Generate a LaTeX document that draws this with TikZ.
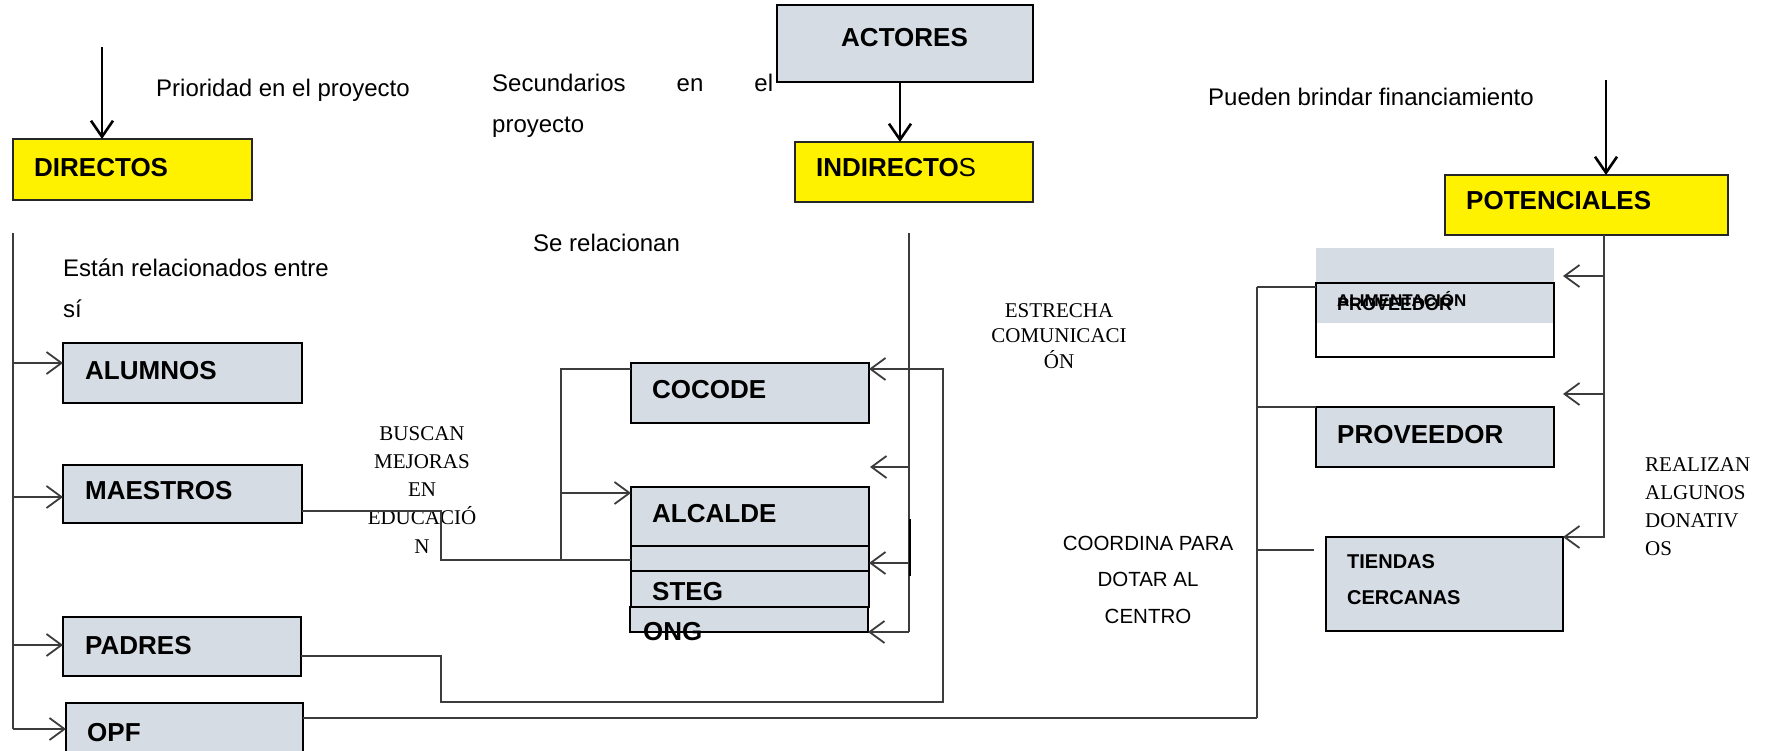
\documentclass[tikz,border=0pt]{standalone}
\usepackage{fontspec}
\setmainfont{Liberation Sans}
\newfontfamily\serifrm{Liberation Serif}
\usetikzlibrary{arrows.meta}
\definecolor{boxgray}{HTML}{D6DCE4}
\definecolor{lnkc}{HTML}{3C3C3C}
\begin{document}
\begin{tikzpicture}[x=1pt,y=-1pt,
  bx/.style n args={2}{minimum width=#1, minimum height=#2},
  boxg/.style={draw=black, line width=2.2pt, fill=boxgray, inner sep=0pt, outer sep=0pt, anchor=north west},
  boxy/.style={draw=black!85, line width=2pt, fill=yellow, inner sep=0pt, outer sep=0pt, anchor=north west},
  lbl/.style={inner sep=0pt, anchor=base west},
  tbig/.style={font=\fontsize{26}{30}\selectfont\bfseries},
  tnorm/.style={font=\fontsize{24}{41}\selectfont},
  tser/.style={inner sep=0pt, anchor=base, align=center},
  lnk/.style={draw=lnkc, line width=1.8pt},
  smarr/.style={lnk, -{Straight Barb[length=15pt,width=22pt]}},
  mainarr/.style={draw=black, line width=2.6pt, -{Straight Barb[length=16pt,width=22pt]}}
]
\useasboundingbox (0,0) rectangle (1773,751);

% ---------- boxes ----------
\node[boxg, bx={256}{77}] (act) at (777,5) {};
\node[boxy, bx={239}{61}] (dir) at (13,139) {};
\node[boxy, bx={238}{60}] (ind) at (795,142) {};
\node[boxy, bx={283}{60}] (pot) at (1445,175) {};
\node[boxg, bx={239}{60}] (alu) at (63,343) {};
\node[boxg, bx={239}{58}] (mae) at (63,465) {};
\node[boxg, bx={238}{59}] (pad) at (63,617) {};
\node[boxg, bx={237}{56}] (opf) at (66,703) {};
\node[boxg, bx={238}{60}] (coc) at (631,363) {};
\node[boxg, bx={238}{59}] (alc) at (631,487) {};
\node[boxg, bx={238}{25}] (blk) at (631,546) {};
\node[boxg, bx={238}{36}] (stg) at (631,571) {};
\node[boxg, bx={238}{25}] (ong) at (630,607) {};
\node[fill=boxgray, inner sep=0pt, outer sep=0pt, anchor=north west, bx={238}{75}] (alimbg) at (1316,248) {};
\node[draw=black, line width=2.2pt, inner sep=0pt, outer sep=0pt, anchor=north west, bx={238}{74}] (alim) at (1316,283) {};
\node[boxg, bx={238}{60}] (prov) at (1316,407) {};
\node[boxg, bx={237}{94}] (tie) at (1326,537) {};

% ---------- texts in boxes ----------
\node[lbl, tbig] (tact) at (841,47) {ACTORES};
\node[lbl, tbig] (tdir) at (34,177) {DIRECTOS};
\node[lbl, font=\fontsize{26}{30}\selectfont] (tind) at (816,177) {\textbf{INDIRECTO}S};
\node[lbl, tbig] (tpot) at (1466,210) {POTENCIALES};
\node[lbl, tbig] (talu) at (85,379) {ALUMNOS};
\node[lbl, tbig] (tmae) at (85,499) {MAESTROS};
\node[lbl, tbig] (tpad) at (85,654) {PADRES};
\node[lbl, tbig] (topf) at (87,741) {OPF};
\node[lbl, tbig] (tcoc) at (652,399) {COCODE};
\node[lbl, tbig] (talc) at (652,522) {ALCALDE};
\node[lbl, tbig] (tstg) at (652,600) {STEG};
\node[lbl, tbig] (tong) at (643,640) {ONG};
\node[lbl, font=\fontsize{17}{20}\selectfont\bfseries] (talim) at (1337,307) {ALIMENTACIÓN};
\node[lbl, font=\fontsize{18}{20}\selectfont\bfseries] (tprov1) at (1337,311) {PROVEEDOR};
\node[lbl, tbig] (tprov) at (1337,443) {PROVEEDOR};
\node[lbl, font=\fontsize{20}{36}\selectfont\bfseries, align=left] (ttie) at (1347,604) {TIENDAS\\CERCANAS};

% ---------- free texts ----------
\node[lbl, tnorm] (tprio) at (156,97) {Prioridad en el proyecto};
\node[lbl, tnorm] (tsec) at (492,92) {\makebox[281pt][s]{Secundarios en el}};
\node[lbl, tnorm] (tproy) at (492,133) {proyecto};
\node[lbl, tnorm] (tpue) at (1208,106) {Pueden brindar financiamiento};
\node[lbl, tnorm] (trel) at (533,252) {Se relacionan};
\node[lbl, tnorm, align=left] (test) at (63,318) {Están relacionados entre\\sí};
\node[tser, font=\serifrm\fontsize{21}{28.2}\selectfont] (tbus) at (422,553) {BUSCAN\\MEJORAS\\EN\\EDUCACIÓ\\N};
\node[tser, font=\serifrm\fontsize{21}{25.5}\selectfont] (test2) at (1059,368) {ESTRECHA\\COMUNICACI\\ÓN};
\node[tser, font=\fontsize{20.5}{36.5}\selectfont] (tcoor) at (1148,623) {COORDINA PARA\\DOTAR AL\\CENTRO};
\node[lbl, align=left, font=\serifrm\fontsize{21}{28}\selectfont] (treal) at (1645,555) {REALIZAN\\ALGUNOS\\DONATIV\\OS};

% ---------- main arrows ----------
\coordinate (pdtop) at (102,47);
\draw[mainarr] (pdtop) -- (pdtop |- dir.north);
\draw[mainarr] (act.south -| 900,0) -- (ind.north -| 900,0);
\coordinate (pptop) at (1606,80);
\draw[mainarr] (pptop) -- (pptop |- pot.north);

% ---------- directos spine ----------
\coordinate (ds1) at (13,233);
\coordinate (ds2) at (13,729);
\draw[lnk] (ds1) -- (ds2);
\draw[smarr] (ds1 |- 0,363) -- (alu.west |- 0,363);
\draw[smarr] (ds1 |- 0,497) -- (mae.west |- 0,497);
\draw[smarr] (ds1 |- 0,645) -- (pad.west |- 0,645);
\draw[smarr] (ds2) -- (ds2 -| opf.west);

% ---------- indirectos spine ----------
\coordinate (is1) at (909,233);
\coordinate (is2) at (909,632);
\coordinate (igap) at (870,467);
\draw[lnk] (is1) -- (is2);
\draw[smarr] (is1 |- igap) -- (igap);
\draw[smarr] (is1 |- 0,563) -- (blk.east |- 0,563);
\draw[smarr] (is2) -- (is2 -| ong.east);
\draw[draw=black, line width=2.4pt] (910,519) -- (910,576);

% ---------- potenciales spine ----------
\coordinate (ps2) at (1604,538);
\coordinate (pa1) at (1563,276);
\coordinate (pa2) at (1563,394);
\draw[lnk] (pot.south -| ps2) -- (ps2);
\draw[smarr] (ps2 |- pa1) -- (pa1);
\draw[smarr] (ps2 |- pa2) -- (pa2);
\draw[smarr] (ps2 |- tie.north east) -- (tie.north east);

% ---------- potenciales left bracket ----------
\coordinate (pl1) at (1257,287);
\coordinate (pl2) at (1257,718);
\coordinate (plt) at (1314,550);
\draw[lnk] (pl1) -- (pl2);
\draw[lnk] (pl1) -- (pl1 -| alim.west);
\draw[lnk] (pl1 |- prov.north) -- (prov.north west);
\draw[lnk] (pl1 |- plt) -- (plt);
\draw[lnk] (opf.east |- pl2) -- (pl2);

% ---------- PADRES -> COCODE ----------
\draw[smarr] (pad.east |- 0,656) -- (441,656) -- (441,702) -- (943,702) -- (943,369) -- (coc.east |- 0,369);

% ---------- MAESTROS -> indirectos ----------
\draw[lnk] (mae.east |- 0,511) -- (441,511) -- (441,560) -- (blk.west |- 0,560);
\draw[lnk] (561,560) -- (561,369) -- (coc.west |- 0,369);
\draw[smarr] (561,493) -- (alc.west |- 0,493);
\end{tikzpicture}
\end{document}
